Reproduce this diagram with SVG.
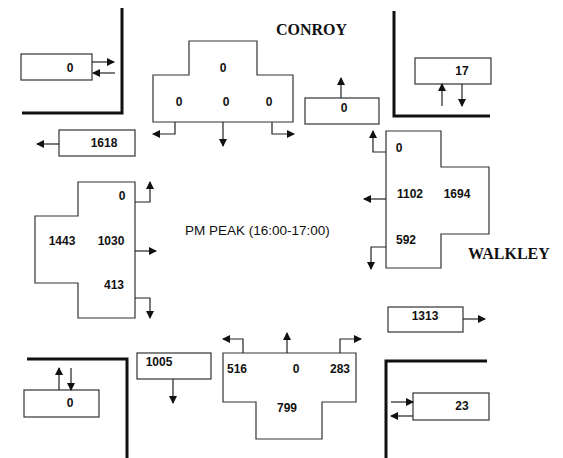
<svg xmlns="http://www.w3.org/2000/svg" width="563" height="458" viewBox="0 0 563 458">
<defs>
<marker id="ah" viewBox="0 0 8 8" refX="7" refY="4" markerWidth="8" markerHeight="8" markerUnits="userSpaceOnUse" orient="auto">
<path d="M0,0 L8,4 L0,8 Z" fill="#111"/>
</marker>
</defs>
<style>
.bx{fill:#fff;stroke:#333;stroke-width:1.2}
.curb{fill:none;stroke:#111;stroke-width:3}
.ar{fill:none;stroke:#222;stroke-width:1.2;marker-end:url(#ah)}
.n{font-family:"Liberation Sans",Arial,sans-serif;font-weight:bold;font-size:12px;fill:#111;text-anchor:middle}
.st{font-family:"Liberation Serif","Times New Roman",serif;font-weight:bold;font-size:16px;fill:#111}
.pk{font-family:"Liberation Sans",Arial,sans-serif;font-size:13.5px;fill:#111}
</style>
<rect width="563" height="458" fill="#fff"/>
<g id="curbs">
<path class="curb" d="M122,8 V113 H22"/>
<path class="curb" d="M394,11 V116 H490"/>
<path class="curb" d="M27,359 H127 V458"/>
<path class="curb" d="M487,361 H386 V458"/>
</g>
<g id="labels">
<text class="st" x="276" y="35">CONROY</text>
<text class="st" x="468" y="259">WALKLEY</text>
<text class="pk" x="185" y="235">PM PEAK (16:00-17:00)</text>
</g>
<g id="nw-box"><rect class="bx" x="21" y="54" width="71" height="26"/><text class="n" x="70" y="72">0</text></g>
<g id="w-out"><rect class="bx" x="59" y="130" width="76" height="26"/><text class="n" x="104" y="147">1618</text></g>
<g id="n-approach"><path class="bx" d="M189,41 H257 V75 H293 V122 H153 V75 H189 Z"/>
<text class="n" x="223" y="72">0</text><text class="n" x="179" y="106">0</text><text class="n" x="226" y="106">0</text><text class="n" x="269" y="106">0</text></g>
<g id="n-out"><rect class="bx" x="305" y="98" width="74" height="26"/><text class="n" x="344" y="112">0</text></g>
<g id="ne-box"><rect class="bx" x="415" y="58" width="76" height="26"/><text class="n" x="462" y="75">17</text></g>
<g id="e-approach"><path class="bx" d="M386,131 H441 V167 H489 V234 H441 V268 H386 Z"/>
<text class="n" x="399" y="152">0</text><text class="n" x="410" y="198">1102</text><text class="n" x="457" y="198">1694</text><text class="n" x="406" y="244">592</text></g>
<g id="w-approach"><path class="bx" d="M78,182 H135 V318 H78 V283 H35 V216 H78 Z"/>
<text class="n" x="122" y="200">0</text><text class="n" x="62" y="245">1443</text><text class="n" x="111" y="245">1030</text><text class="n" x="114" y="289">413</text></g>
<g id="e-out"><rect class="bx" x="388" y="307" width="75" height="25"/><text class="n" x="425" y="320">1313</text></g>
<g id="sw-box"><rect class="bx" x="24" y="390" width="75" height="27"/><text class="n" x="70" y="407">0</text></g>
<g id="s-out"><rect class="bx" x="137" y="353" width="74" height="26"/><text class="n" x="159" y="366">1005</text></g>
<g id="s-approach"><path class="bx" d="M223,353 H356 V402 H322 V439 H256 V402 H223 Z"/>
<text class="n" x="237" y="373">516</text><text class="n" x="296" y="373">0</text><text class="n" x="340" y="373">283</text><text class="n" x="287" y="412">799</text></g>
<g id="se-box"><rect class="bx" x="413" y="393" width="76" height="27"/><text class="n" x="462" y="410">23</text></g>
<g id="connectors">
<path class="ar" d="M92,62 H114"/>
<path class="ar" d="M115,73 H93"/>
<path class="ar" d="M59,144 H37"/>
<path class="ar" d="M175,122 V134 H153"/>
<path class="ar" d="M223,122 V146"/>
<path class="ar" d="M272,122 V134 H294"/>
<path class="ar" d="M341,98 V78"/>
<path class="ar" d="M442,106 V84"/>
<path class="ar" d="M462,84 V106"/>
<path class="ar" d="M386,152 H373 V131"/>
<path class="ar" d="M386,199 H364"/>
<path class="ar" d="M386,247 H371 V269"/>
<path class="ar" d="M135,202 H150 V182"/>
<path class="ar" d="M135,251 H156"/>
<path class="ar" d="M135,298 H150 V318"/>
<path class="ar" d="M463,319 H485"/>
<path class="ar" d="M59,390 V368"/>
<path class="ar" d="M71,368 V390"/>
<path class="ar" d="M173,379 V403"/>
<path class="ar" d="M243,353 V339 H223"/>
<path class="ar" d="M287,353 V333"/>
<path class="ar" d="M340,353 V339 H361"/>
<path class="ar" d="M391,402 H413"/>
<path class="ar" d="M413,416 H391"/>
</g>
</svg>
